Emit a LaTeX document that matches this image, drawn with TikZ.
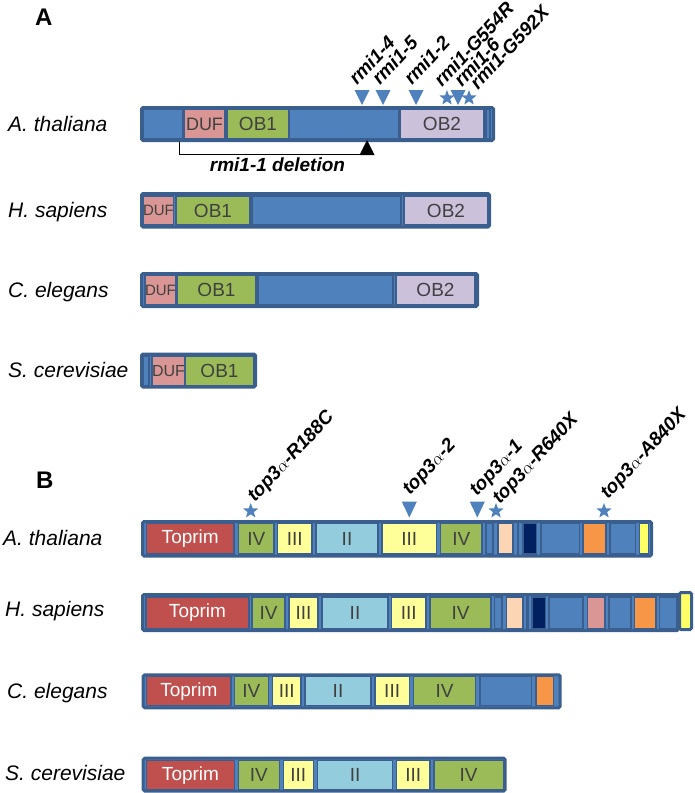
\documentclass[tikz,border=0pt]{standalone}
\usepackage{fontspec}
\setmainfont{Liberation Sans}
\usetikzlibrary{shapes.geometric}
\definecolor{barblue}{HTML}{4F81BD}
\definecolor{edge}{HTML}{3A5F8E}
\definecolor{dufpink}{HTML}{D99694}
\definecolor{obgreen}{HTML}{9BBB59}
\definecolor{oblilac}{HTML}{CCC1DA}
\definecolor{topred}{HTML}{C0504D}
\definecolor{lyellow}{HTML}{FFFF99}
\definecolor{lblue}{HTML}{93CDDD}
\definecolor{peach}{HTML}{FCD5B5}
\definecolor{navy}{HTML}{002060}
\definecolor{orng}{HTML}{F79646}
\definecolor{yel}{HTML}{FFFF66}
\definecolor{txtgray}{HTML}{404040}
\newcommand\spfont{\fontsize{21}{24}\selectfont\itshape}
\newcommand\mutfont{\fontsize{19}{22}\selectfont\bfseries\itshape}
\newcommand\segfont{\fontsize{19}{22}\selectfont}
\newcommand\protbar[5]{\pgfmathsetmacro\bw{#3-#2-3}\pgfmathsetmacro\bh{#5-#4-3}%
  \node[outerbar, minimum width=\bw pt, minimum height=\bh pt] (#1) at (#2+1.5,#4+1.5) {};}
\newcommand\seg[7]{\pgfmathsetmacro\sw{#3-#2}\pgfmathsetmacro\sh{#5-#4}%
  \node[segbox, fill=#6, minimum width=\sw pt, minimum height=\sh pt] (#1) at (#2,#4) {#7};}
\newcommand\tridown[3]{\fill[mkfill] (#1-7.5,#2) -- (#1+7.5,#2) -- (#1,#3) -- cycle;}
\tikzset{
  outerbar/.style={draw=edge, line width=3pt, fill=barblue, rounded corners=1.5pt, inner sep=0pt, outer sep=0pt, anchor=north west},
  segbox/.style={draw=edge, line width=1.2pt, inner sep=0pt, outer sep=0pt, anchor=north west, font=\segfont, text=txtgray},
  species/.style={font=\spfont, anchor=base west, inner sep=0pt},
  mutlab/.style={font=\mutfont, anchor=base west, inner sep=0pt, rotate=47},
  panel/.style={font=\fontsize{24}{28}\selectfont\bfseries, anchor=base west, inner sep=0pt},
  mkfill/.style={fill=barblue},
  starmark/.style={star, star points=5, star point ratio=2.4, fill=barblue, minimum size=16pt, inner sep=0pt}
}
\begin{document}
\begin{tikzpicture}[x=1pt,y=-1pt]
\useasboundingbox (0,0) rectangle (694,793);
% ---------------- Panel A ----------------
\node[panel] (pA) at (35,25) {A};
% A. thaliana
\node[species] (spA1) at (8,131) {A. thaliana};
\protbar{barA1}{140}{495}{106}{142}
\seg{a1s0}{143}{183}{109.5}{138.5}{barblue}{}
\seg{a1duf}{184}{225}{109.5}{138.5}{dufpink}{\fontsize{18}{20}\selectfont DUF}
\seg{a1ob1}{227}{289}{109.5}{138.5}{obgreen}{OB1}
\seg{a1blue}{289}{399}{109.5}{138.5}{barblue}{}
\seg{a1ob2}{400}{484}{109.5}{138.5}{oblilac}{OB2}
\seg{a1end}{486}{490}{109.5}{138.5}{barblue}{}
% markers
\tridown{362}{90}{105}
\tridown{383}{90}{105}
\tridown{416}{90}{105}
\tridown{458}{90}{105}
\node[starmark] (stA1) at (447,98) {};
\node[starmark] (stA2) at (469,98) {};
\node[mutlab] (mA1) at (357,86) {rmi1-4};
\node[mutlab] (mA2) at (380,86) {rmi1-5};
\node[mutlab] (mA3) at (412,86) {rmi1-2};
\node[mutlab] (mA4) at (442,88) {rmi1-G554R};
\node[mutlab] (mA5) at (462,88) {rmi1-6};
\node[mutlab] (mA6) at (478,90.5) {rmi1-G592X};
% deletion
\coordinate (delL) at (179,142);
\coordinate (delR) at (367,154);
\draw[black, line width=1pt] (delL) -- (delL |- delR) -- (delR);
\fill[black] (359.5,155) -- (374.5,155) -- (367,140) -- cycle;
\node[font=\mutfont, anchor=base, inner sep=0pt] (delLab) at (277.5,171.5) {rmi1-1 deletion};
% H. sapiens
\node[species] (spA2) at (8,217) {H. sapiens};
\protbar{barA2}{140}{491}{192}{228.5}
\seg{a2duf}{143}{173}{196}{225}{dufpink}{\fontsize{15}{17}\selectfont DUF}
\seg{a2ob1}{176}{250}{196}{225}{obgreen}{OB1}
\seg{a2blue}{252}{401}{196}{225}{barblue}{}
\seg{a2ob2}{404}{488}{196}{225}{oblilac}{OB2}
% C. elegans
\node[species] (spA3) at (8,297) {C. elegans};
\protbar{barA3}{140}{479}{272}{308}
\seg{a3duf}{145}{173}{275.5}{305}{dufpink}{\fontsize{15}{17}\selectfont DUF}
\seg{a3ob1}{177}{256}{275.5}{305}{obgreen}{OB1}
\seg{a3blue}{258}{393}{275.5}{305}{barblue}{}
\seg{a3ob2}{396}{475}{275.5}{305}{oblilac}{OB2}
% S. cerevisiae
\node[species] (spA4) at (8,377) {S. cerevisiae};
\protbar{barA4}{140}{257}{352.5}{388.5}
\seg{a4s0}{143}{149}{356}{385.5}{barblue}{}
\seg{a4duf}{152}{183}{356}{385.5}{dufpink}{\fontsize{16}{18}\selectfont DUF}
\seg{a4ob1}{185}{254}{356}{385.5}{obgreen}{OB1}
% ---------------- Panel B ----------------
\node[panel] (pB) at (36,488) {B};
% A. thaliana
\node[species] (spB1) at (3,545) {A. thaliana};
\protbar{barB1}{141}{653}{520}{557.5}
\seg{b1top}{146.5}{234}{523.5}{554}{topred}{\color{white}Toprim}
\seg{b1iv}{238.5}{274}{523.5}{554}{obgreen}{IV}
\seg{b1iii}{277.5}{312}{523.5}{554}{lyellow}{III}
\seg{b1ii}{316}{378}{523.5}{554}{lblue}{II}
\seg{b1iiib}{382}{436.5}{523.5}{554}{lyellow}{III}
\seg{b1ivb}{440.5}{482}{523.5}{554}{obgreen}{IV}
\seg{b1bl1}{486}{493}{523.5}{554}{barblue}{}
\seg{b1pch}{498}{513}{523.5}{554}{peach}{}
\seg{b1thin}{517.5}{518.5}{523.5}{554}{barblue}{}
\seg{b1nav}{523}{536.5}{523.5}{554}{navy}{}
\seg{b1bl2}{541}{579.5}{523.5}{554}{barblue}{}
\seg{b1org}{583}{606}{523.5}{554}{orng}{}
\seg{b1bl3}{610}{635.5}{523.5}{554}{barblue}{}
\seg{b1yel}{639.5}{648.5}{523.5}{554}{yel}{}
% markers
\node[starmark] (stB1) at (250.7,511) {};
\tridown{409.3}{501.7}{517.5}
\tridown{477.3}{501.7}{517.5}
\node[starmark] (stB2) at (496,511) {};
\node[starmark] (stB3) at (604,511) {};
\node[mutlab] (mB1) at (255,503) {top3$\alpha$-R188C};
\node[mutlab] (mB2) at (410,496) {top3$\alpha$-2};
\node[mutlab] (mB3) at (477,497) {top3$\alpha$-1};
\node[mutlab] (mB4) at (500,505) {top3$\alpha$-R640X};
\node[mutlab] (mB5) at (608,500) {top3$\alpha$-A840X};
% H. sapiens
\node[species] (spB2) at (5,616) {H. sapiens};
\protbar{barB2}{141}{680}{593}{632}
\seg{b2top}{146}{249}{597}{628.5}{topred}{\color{white}Toprim}
\seg{b2iv}{252}{285}{597}{628.5}{obgreen}{IV}
\seg{b2iii}{289}{318}{597}{628.5}{lyellow}{III}
\seg{b2ii}{322}{388}{597}{628.5}{lblue}{II}
\seg{b2iiib}{391.5}{426}{597}{628.5}{lyellow}{III}
\seg{b2ivb}{430}{491}{597}{628.5}{obgreen}{IV}
\seg{b2bl1}{494.5}{502}{597}{628.5}{barblue}{}
\seg{b2pch}{506.5}{523}{597}{628.5}{peach}{}
\seg{b2thin}{527}{528.5}{597}{628.5}{barblue}{}
\seg{b2nav}{532}{545.5}{597}{628.5}{navy}{}
\seg{b2bl2}{549}{583}{597}{628.5}{barblue}{}
\seg{b2pink}{587.5}{605}{597}{628.5}{dufpink}{}
\seg{b2bl3}{609}{631}{597}{628.5}{barblue}{}
\seg{b2org}{634.7}{656}{597}{628.5}{orng}{}
\seg{b2bl4}{659.5}{676.5}{597}{628.5}{barblue}{}
\node[outerbar, fill=yel, minimum width=12pt, minimum height=37pt] (b2yel) at (679.5,592.5) {};
% C. elegans
\node[species] (spB3) at (7,698) {C. elegans};
\protbar{barB3}{141.7}{561.7}{673.3}{709.3}
\seg{b3top}{146.7}{231}{676.7}{705.7}{topred}{\color{white}Toprim}
\seg{b3iv}{234.3}{268.3}{676.7}{705.7}{obgreen}{IV}
\seg{b3iii}{272.7}{301}{676.7}{705.7}{lyellow}{III}
\seg{b3ii}{305}{371}{676.7}{705.7}{lblue}{II}
\seg{b3iiib}{375}{409.3}{676.7}{705.7}{lyellow}{III}
\seg{b3ivb}{413.3}{475.7}{676.7}{705.7}{obgreen}{IV}
\seg{b3bl1}{480}{531.7}{676.7}{705.7}{barblue}{}
\seg{b3org}{536}{553.3}{676.7}{705.7}{orng}{}
% S. cerevisiae
\node[species] (spB4) at (5,780) {S. cerevisiae};
\protbar{barB4}{141.7}{506.7}{756.7}{792.5}
\seg{b4top}{146.7}{234.3}{760.7}{789.5}{topred}{\color{white}Toprim}
\seg{b4iv}{238.3}{279.3}{760.7}{789.5}{obgreen}{IV}
\seg{b4iii}{283.3}{313.3}{760.7}{789.5}{lyellow}{III}
\seg{b4ii}{317.7}{392.7}{760.7}{789.5}{lblue}{II}
\seg{b4iiib}{396.7}{430}{760.7}{789.5}{lyellow}{III}
\seg{b4ivb}{434}{503.3}{760.7}{789.5}{obgreen}{IV}
\end{tikzpicture}
\end{document}
